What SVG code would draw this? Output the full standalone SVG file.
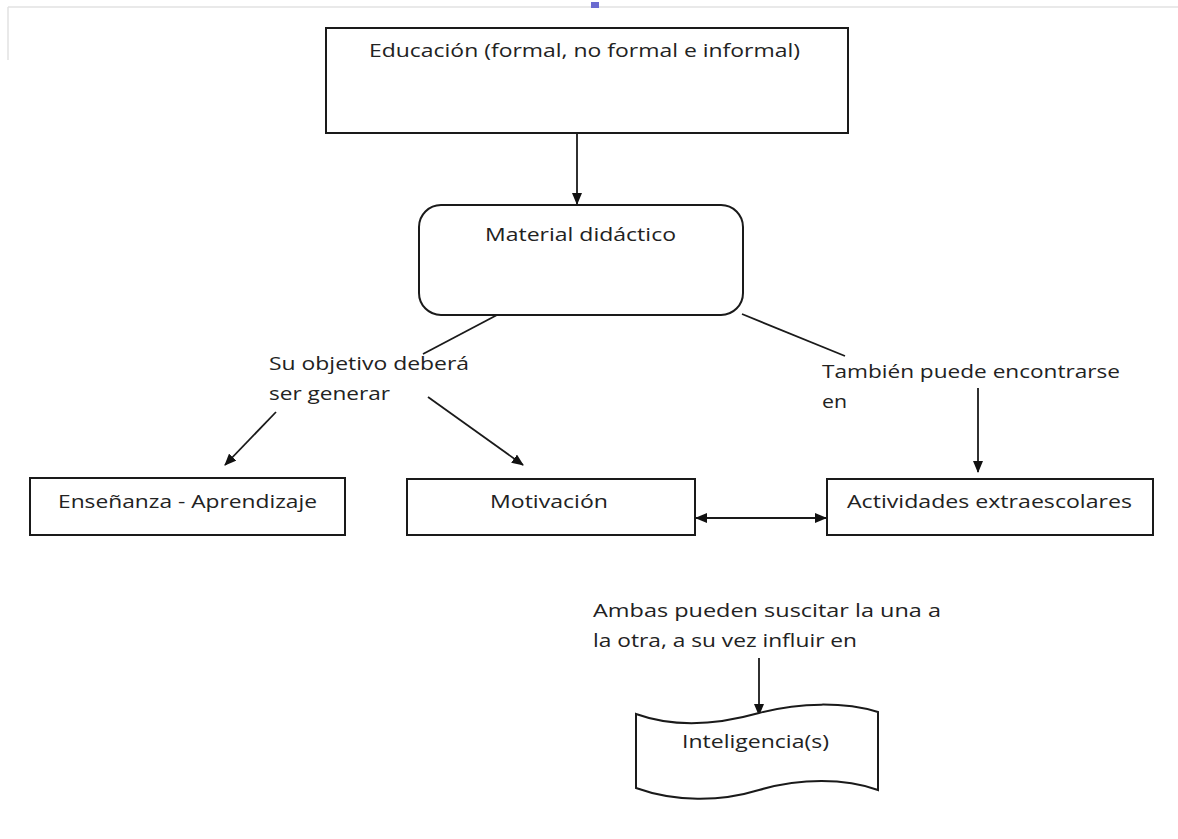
<svg xmlns="http://www.w3.org/2000/svg" width="1178" height="839" viewBox="0 0 1178 839">
<style>
.box{fill:#fff;stroke:#1a1a1a;stroke-width:2}
.ln{fill:none;stroke:#1a1a1a;stroke-width:1.8}
.t{font-family:"Open Sans","Liberation Sans",sans-serif;font-size:18px;fill:#222}
</style>
<defs>
<marker id="ah" viewBox="0 0 12 10" refX="11" refY="5" markerWidth="12" markerHeight="10" markerUnits="userSpaceOnUse" orient="auto-start-reverse">
<path d="M0,0 L12,5 L0,10 Z" fill="#111"/>
</marker>
</defs>
<rect x="0" y="0" width="1178" height="839" fill="#fff"/>
<path d="M8,7 H1178 M8,7 V60" stroke="#e2e2e2" stroke-width="1.5" fill="none"/>
<rect x="591" y="2" width="8" height="6" fill="#6b6bd0"/>
<g id="connectors">
<line class="ln" x1="577" y1="133" x2="577" y2="204" marker-end="url(#ah)"/>
<line class="ln" x1="497" y1="315" x2="423" y2="354"/>
<line class="ln" x1="742" y1="314" x2="845" y2="356"/>
<line class="ln" x1="276" y1="412" x2="225" y2="465" marker-end="url(#ah)"/>
<line class="ln" x1="428" y1="397" x2="523" y2="465" marker-end="url(#ah)"/>
<line class="ln" x1="978" y1="388" x2="978" y2="472" marker-end="url(#ah)"/>
<line class="ln" x1="696" y1="518" x2="826" y2="518" marker-start="url(#ah)" marker-end="url(#ah)"/>
<line class="ln" x1="759" y1="658" x2="759" y2="715" marker-end="url(#ah)"/>
</g>
<g id="educacion">
<rect class="box" x="326" y="28" width="522" height="105"/>
<text class="t" x="369" y="57" textLength="431" lengthAdjust="spacingAndGlyphs">Educación (formal, no formal e informal)</text>
</g>
<g id="material">
<rect class="box" x="419" y="205" width="324" height="110" rx="22" ry="22"/>
<text class="t" x="485" y="241" textLength="191" lengthAdjust="spacingAndGlyphs">Material didáctico</text>
</g>
<g id="label-objetivo">
<text class="t" x="269" y="370" textLength="200" lengthAdjust="spacingAndGlyphs">Su objetivo deberá</text>
<text class="t" x="269" y="400" textLength="121" lengthAdjust="spacingAndGlyphs">ser generar</text>
</g>
<g id="label-tambien">
<text class="t" x="822" y="378" textLength="298" lengthAdjust="spacingAndGlyphs">También puede encontrarse</text>
<text class="t" x="822" y="408" textLength="25" lengthAdjust="spacingAndGlyphs">en</text>
</g>
<g id="ensenanza">
<rect class="box" x="30" y="478" width="315" height="57"/>
<text class="t" x="58" y="508" textLength="259" lengthAdjust="spacingAndGlyphs">Enseñanza - Aprendizaje</text>
</g>
<g id="motivacion">
<rect class="box" x="407" y="479" width="288" height="56"/>
<text class="t" x="490" y="508" textLength="118" lengthAdjust="spacingAndGlyphs">Motivación</text>
</g>
<g id="actividades">
<rect class="box" x="827" y="479" width="326" height="56"/>
<text class="t" x="847" y="508" textLength="285" lengthAdjust="spacingAndGlyphs">Actividades extraescolares</text>
</g>
<g id="label-ambas">
<text class="t" x="593" y="617" textLength="348" lengthAdjust="spacingAndGlyphs">Ambas pueden suscitar la una a</text>
<text class="t" x="593" y="647" textLength="264" lengthAdjust="spacingAndGlyphs">la otra, a su vez influir en</text>
</g>
<g id="inteligencia">
<path class="box" d="M636,714 C675,728 720,724 759,713 C800,702 845,702 878,712 L878,790 C845,778 800,778 759,790 C720,802 675,802 636,788 Z"/>
<text class="t" x="682" y="748" textLength="147" lengthAdjust="spacingAndGlyphs">Inteligencia(s)</text>
</g>
</svg>
